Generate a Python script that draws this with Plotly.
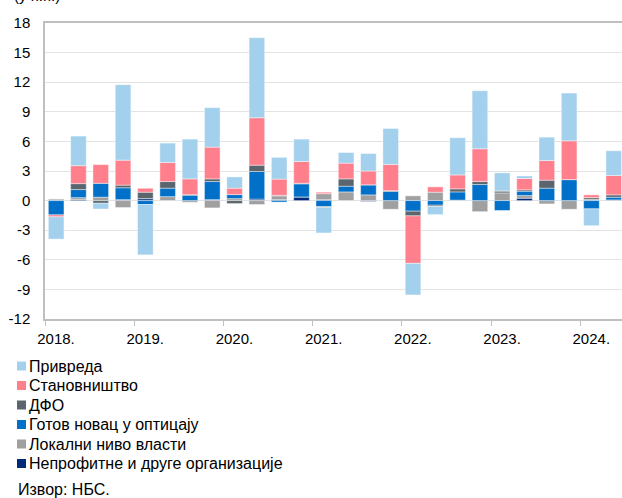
import plotly.graph_objects as go

# Quarters 2018 Q1 .. 2024 Q2
quarters = [f"{y} Q{q}" for y in range(2018, 2025) for q in range(1, 5)][:26]
year_labels = ["2018.", "2019.", "2020.", "2021.", "2022.", "2023.", "2024."]

series_names = ["Непрофитне и друге организације", "Локални ниво власти", "Готов новац у оптицају",
                "ДФО", "Становништво", "Привреда"]
series_colors = ["#002a7a", "#a0a0a0", "#0070c8", "#5a656d", "#ff808c", "#a3d0ec"]

neprofitne = [0, 0.1, 0, 0.1, 0.2, 0, 0, 0.1, 0, 0.15, 0.1, 0.37, 0.1, 0, -0.08, 0,
              0, 0, 0.05, 0, 0, 0.24, 0, 0, 0, 0.07]
lokalni = [0.17, 0.2, 0.35, -0.7, 0, 0.4, -0.17, -0.74, 0.2, -0.4, 0.38, 0, 0.6, 0.88, 0.58, -0.88,
           0.48, 0.85, 0, -1.12, 0.78, 0.27, -0.34, -0.88, 0.15, 0]
gotov_novac = [-1.45, 0.82, 1.4, 1.2, -0.4, 0.86, 0.55, 1.83, 0.41, 2.8, -0.15, 1.33, -0.6, 0.58, 1.02, 0.92,
               -1.07, -0.47, 0.83, 1.63, -1.0, 0.44, 1.26, 2.13, -0.84, 0.27]
dfo = [0, 0.6, -0.27, 0.27, 0.65, 0.67, 0.05, 0.27, -0.3, 0.64, 0.05, 0.05, -0.08, 0.74, 0, 0.1,
       -0.48, -0.13, 0.31, 0.3, 0.2, 0.14, 0.81, 0, 0.16, 0.24]
stanovnistvo = [-0.2, 1.82, 1.9, 2.53, 0.4, 1.93, 1.6, 3.22, 0.65, 4.81, 1.65, 2.21, 0.15, 1.6, 1.4, 2.64,
                -4.81, 0.54, 1.41, 3.32, 0, 1.15, 1.99, 3.93, 0.27, 1.96]
privreda = [-2.25, 3.0, -0.58, 7.65, -5.1, 1.97, 4.03, 4.0, 1.14, 8.1, 2.2, 2.27, -2.6, 1.07, 1.77, 3.65,
            -3.2, -0.82, 3.77, 5.89, 1.83, 0.26, 2.37, 4.84, -1.7, 2.51]

series_values = [neprofitne, lokalni, gotov_novac, dfo, stanovnistvo, privreda]

y_ticks = [-12, -9, -6, -3, 0, 3, 6, 9, 12, 15, 18]

FONT = "Arial, Liberation Sans, sans-serif"
x_pos = list(range(len(quarters)))

fig = go.Figure()
for name, vals, col in zip(series_names, series_values, series_colors):
    fig.add_trace(go.Bar(
        x=x_pos, y=vals, name=name, marker_color=col,
        marker_line=dict(color="rgba(255,255,255,0.7)", width=0.6),
        hovertext=quarters, showlegend=False,
    ))

year_starts = [i * 4 - 0.5 for i in range(len(year_labels))]

fig.update_layout(
    width=622, height=498,
    margin=dict(l=45, r=0, t=23, b=179),
    barmode="relative", bargap=0.3,
    plot_bgcolor="white", paper_bgcolor="white",
    font=dict(family=FONT, size=15, color="black"),
    xaxis=dict(
        range=[-0.5, 25.37], tickvals=year_starts, ticktext=year_labels,
        ticks="outside", ticklen=5, tickcolor="#bfbfbf", tickwidth=1.3,
        ticklabelshift=11, showgrid=False, zeroline=False,
        showline=True, linecolor="#bfbfbf", linewidth=1.5, mirror=True,
        tickfont=dict(family=FONT, size=15, color="black"),
    ),
    yaxis=dict(
        range=[-12, 18], tickvals=y_ticks, ticktext=[str(v) for v in y_ticks],
        showgrid=True, gridcolor="#e3e3e3", gridwidth=1.3, zeroline=False,
        showline=True, linecolor="#bfbfbf", linewidth=1.5,
        ticks="", ticklabelstandoff=10,
        tickfont=dict(family=FONT, size=15, color="black"),
    ),
)

# Manual legend (reversed order: Привреда first)
legend_rows_y = [366, 385.5, 405, 424.5, 444, 463.5]
for i, (name, col) in enumerate(zip(series_names[::-1], series_colors[::-1])):
    yc = legend_rows_y[i]
    fig.add_shape(type="rect", xref="paper", yref="paper",
                  x0=(17 - 45) / 577, x1=(26 - 45) / 577,
                  y0=(498 - 179 - (yc + 4.5)) / 296, y1=(498 - 179 - (yc - 4.5)) / 296,
                  fillcolor=col, line=dict(width=0))
    fig.add_annotation(xref="paper", yref="paper", x=(27 - 45) / 577, y=(498 - 179 - yc) / 296,
                       text=name, showarrow=False, xanchor="left", yanchor="middle",
                       font=dict(family=FONT, size=16, color="black"))

fig.add_annotation(xref="paper", yref="paper", x=(16 - 45) / 577, y=(498 - 179 - 489) / 296,
                   text="Извор: НБС.", showarrow=False, xanchor="left", yanchor="middle",
                   font=dict(family=FONT, size=16, color="black"))

fig.add_annotation(xref="paper", yref="paper", x=(12 - 45) / 577, y=1, yshift=17,
                   text="(у п.п.)", showarrow=False, xanchor="left", yanchor="bottom",
                   font=dict(family=FONT, size=15, color="black"))

fig.write_html("out.html")
